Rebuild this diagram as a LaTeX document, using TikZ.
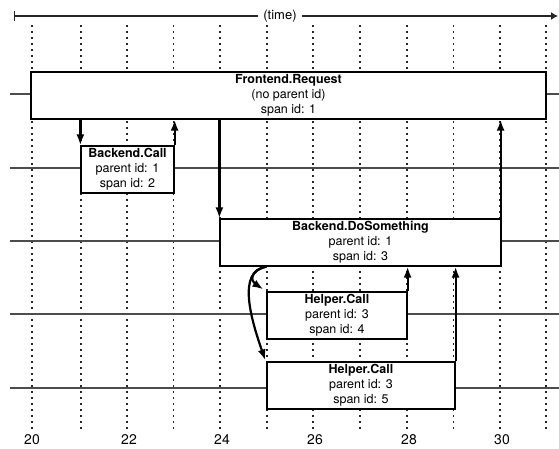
\documentclass[tikz,border=0pt]{standalone}
\usepackage{fontspec}
\setmainfont{TeX Gyre Heros}
\usetikzlibrary{arrows.meta,calc}
\begin{document}
\begin{tikzpicture}[x=1pt,y=-1pt,
  span/.style={draw=black, line width=1.2pt, fill=white, inner sep=0pt,
    font=\fontsize{12.5}{15}\selectfont, align=center, minimum height=47pt},
  arr/.style={line width=2.2pt, -{Latex[length=11pt,width=8pt]}},
  gridline/.style={line width=1.4pt, dash pattern=on 1.6pt off 4.4pt, black!85},
  rowline/.style={line width=1.1pt, black!70},
  ticklbl/.style={font=\fontsize{14}{16}\selectfont, anchor=base, inner sep=0pt},
]
\useasboundingbox (0,0) rectangle (559,448);
% vertical dotted grid
\foreach \x in {32,81,127,173.5,220,267,313,360,407,453.5,500,546}
  \draw[gridline] (\x,25) -- (\x,430);
% row lines
\foreach \y in {94,168,241,314,388}
  \draw[rowline] (10,\y) -- (559,\y);
% time axis
\coordinate (t0) at (14,16);
\coordinate (t1) at (558,16);
\draw[line width=1.2pt, black!85, {Bar[width=10pt]}-{Latex[length=7pt,width=8pt]}] (t0) -- (t1);
\node[fill=white, inner xsep=5pt, inner ysep=2pt, font=\fontsize{13}{15}\selectfont] (tl) at (280,16) {(time)};
% spans
\node[span, minimum width=515pt] (fe) at (288.5,95.5) {\textbf{Frontend.Request}\\(no parent id)\\span id: 1};
\node[span, minimum width=93pt] (bc) at (127.5,169.5) {\textbf{Backend.Call}\\parent id: 1\\span id: 2};
\node[span, minimum width=281pt] (bd) at (360.5,242.5) {\textbf{Backend.DoSomething}\\parent id: 1\\span id: 3};
\node[span, minimum width=140pt] (h4) at (337,315.5) {\textbf{Helper.Call}\\parent id: 3\\span id: 4};
\node[span, minimum width=188pt] (h5) at (361,385.5) {\textbf{Helper.Call}\\parent id: 3\\span id: 5};
% connectors
\draw[arr] (fe.south -| bc.north west) -- (bc.north west);
\draw[arr] (bc.north east) -- (bc.north east |- fe.south);
\draw[arr] (fe.south -| bd.north west) -- (bd.north west);
\draw[arr] ([xshift=-1pt]bd.north east) -- ([xshift=-1pt]bd.north east |- fe.south);
\draw[arr] (h4.north east) -- (h4.north east |- bd.south);
\draw[arr] (h5.north east) -- (h5.north east |- bd.south);
\coordinate (c0) at (bd.south -| h4.north west);
\draw[arr] (c0) .. controls +(-18,5) and +(-12,-8) .. ($(h4.north west)+(-3,-2)$);
\draw[arr] (c0) .. controls +(-30,4) and +(-14,-40) .. ($(h5.north west)+(-1,-1)$);
% axis labels
\node[ticklbl] (n20) at (32,444) {20};
\node[ticklbl] (n22) at (129,444) {22};
\node[ticklbl] (n24) at (222,444) {24};
\node[ticklbl] (n26) at (315,444) {26};
\node[ticklbl] (n28) at (409,444) {28};
\node[ticklbl] (n30) at (502,444) {30};
\end{tikzpicture}
\end{document}
